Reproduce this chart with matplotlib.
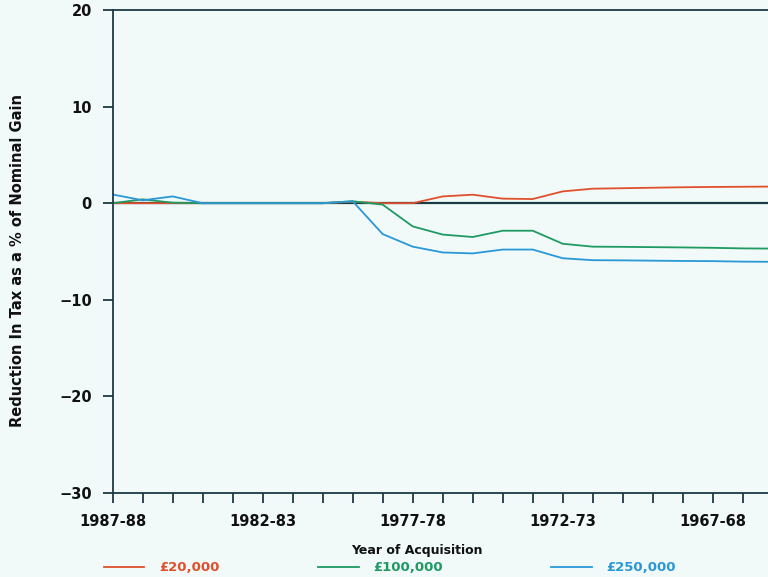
import numpy as np
import matplotlib.pyplot as plt

# years of acquisition, 1987-88 back to 1965-66
years = ['1987-88', '1986-87', '1985-86', '1984-85', '1983-84', '1982-83',
         '1981-82', '1980-81', '1979-80', '1978-79', '1977-78', '1976-77',
         '1975-76', '1974-75', '1973-74', '1972-73', '1971-72', '1970-71',
         '1969-70', '1968-69', '1967-68', '1966-67', '1965-66']

gain_20k = [0, 0, 0, 0, 0, 0, 0, 0, 0.15, 0, 0, 0.7, 0.88, 0.47, 0.43,
            1.22, 1.5, 1.55, 1.6, 1.65, 1.68, 1.7, 1.72]
gain_100k = [0, 0.4, 0.05, 0, 0, 0, 0, 0, 0.2, -0.15, -2.4, -3.25, -3.5,
             -2.85, -2.85, -4.2, -4.5, -4.52, -4.55, -4.58, -4.62, -4.68, -4.7]
gain_250k = [0.9, 0.3, 0.7, 0, 0, 0, 0, 0, 0.2, -3.2, -4.5, -5.1, -5.2,
             -4.8, -4.8, -5.7, -5.9, -5.92, -5.95, -5.98, -6.0, -6.05, -6.07]

labels = ['£20,000', '£100,000', '£250,000']
colors = ['#e0502c', '#1e9a62', '#2b98d6']

bg = '#f1f9f9'
ink = '#1c3a44'

fig = plt.figure(figsize=(7.68, 5.77), dpi=100, facecolor=bg)
ax = fig.add_axes([0.1467, 0.1456, 0.8594, 0.8371], facecolor=bg)

x = np.arange(len(years))
for vals, c, lab in zip([gain_20k, gain_100k, gain_250k], colors, labels):
    ax.plot(x, vals, color=c, lw=1.3, label=lab)

ax.axhline(0, color=ink, lw=1.6, zorder=1)

ax.set_xlim(0, 22)
ax.set_ylim(-30, 20)
ax.set_xticks(x)
ax.set_xticklabels([y if i % 5 == 0 else '' for i, y in enumerate(years)])
ax.set_yticks([20, 10, 0, -10, -20, -30])

for s in ax.spines.values():
    s.set_color(ink)
    s.set_linewidth(1.3)
ax.spines['right'].set_visible(False)

ax.tick_params(axis='both', colors=ink, width=1.3, length=7, direction='out',
               labelsize=10.5, pad=8)
for t in ax.get_xticklabels() + ax.get_yticklabels():
    t.set_fontweight('bold')
    t.set_color('#111111')

fig.text(0.023, 0.549, 'Reduction In Tax as a % of Nominal Gain', rotation=90,
         ha='center', va='center', fontsize=10.5, fontweight='bold', color='#111111')
fig.text(0.543, 0.046, 'Year of Acquisition', ha='center', va='center',
         fontsize=9, fontweight='bold', color='#111111')

# legend drawn along the bottom edge
leg_x = [0.135, 0.414, 0.718]
for lx, c, lab in zip(leg_x, colors, labels):
    fig.add_artist(plt.Line2D([lx, lx + 0.053], [0.017, 0.017], color=c, lw=1.3))
    fig.text(lx + 0.072, 0.017, lab, color=c, fontsize=9.5, fontweight='bold',
             ha='left', va='center')

fig.savefig('out.png', dpi=100, facecolor=bg)
